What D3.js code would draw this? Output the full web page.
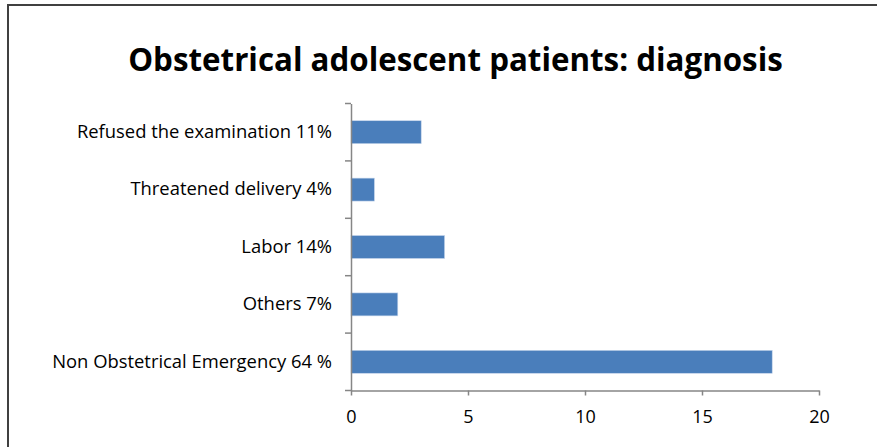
<!DOCTYPE html>
<html><head><meta charset="utf-8">
<script src="https://cdn.jsdelivr.net/npm/d3@7"></script>
<style>body{margin:0;background:#fff}svg{display:block}</style>
</head><body>
<svg id="c" width="877" height="447"></svg>
<script>
const categories = ["Refused the examination 11%","Threatened delivery 4%","Labor 14%","Others 7%","Non Obstetrical Emergency 64 %"];
const values = [3,1,4,2,18];
const xTicks = [0,5,10,15,20];
const title = "Obstetrical adolescent patients: diagnosis";

const svg = d3.select("#c");
const font = "'Open Sans', Lato, sans-serif";
svg.append("rect").attr("x",8).attr("y",5).attr("width",900).attr("height",460)
  .attr("fill","#fff").attr("stroke","#404040").attr("stroke-width",2);

const t = svg.append("text").attr("x",455.5).attr("y",71).attr("text-anchor","middle")
  .attr("font-family",font).attr("font-weight","bold").attr("font-size",32).attr("fill","#000")
  .text(title);
const tw = t.node().getComputedTextLength();
t.attr("font-size", 32*655/tw);

const x = d3.scaleLinear().domain([0,20]).range([351,819]);
const y = d3.scaleBand().domain(categories).range([103.5,390.5]).paddingInner(0.6).paddingOuter(0.3);
const yb = d3.scaleBand().domain(categories).range([103.5,390.5]);

svg.selectAll("rect.bar").data(values).enter().append("rect").attr("class","bar")
  .attr("x",x(0)).attr("y",(d,i)=>y(categories[i])).attr("width",d=>x(d)-x(0)).attr("height",y.bandwidth())
  .attr("fill","#4a7ebb").attr("stroke","#c6d6ec").attr("stroke-width",0.6);

// x axis
const xa = svg.append("g").attr("transform","translate(0,390.5)")
  .call(d3.axisBottom(x).tickValues(xTicks).tickSize(5).tickPadding(15).tickSizeOuter(0));
xa.select(".domain").attr("stroke","#868686").attr("stroke-width",1.5);
xa.selectAll(".tick line").attr("stroke","#868686").attr("stroke-width",1.5);
xa.selectAll(".tick text").attr("font-family",font).attr("font-size",18).attr("fill","#000");

// y axis
const ya = svg.append("g").attr("transform","translate(351,0)")
  .call(d3.axisLeft(yb).tickSize(0).tickPadding(19));
ya.select(".domain").attr("stroke","#868686").attr("stroke-width",1.5);
ya.selectAll(".tick text").attr("font-family",font).attr("font-size",18.4).attr("fill","#000");
// category boundary ticks
const bounds = d3.range(categories.length+1).map(i=>103.5+i*yb.step());
svg.selectAll("line.yt").data(bounds).enter().append("line").attr("class","yt")
  .attr("x1",345).attr("x2",351).attr("y1",d=>d).attr("y2",d=>d)
  .attr("stroke","#868686").attr("stroke-width",1.5);
</script>
</body></html>
